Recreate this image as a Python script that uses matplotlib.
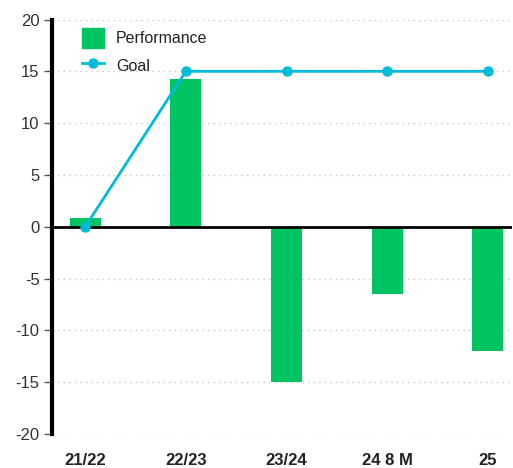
import numpy as np
import matplotlib.pyplot as plt
from matplotlib.patches import Patch
from matplotlib.lines import Line2D

plt.rcParams['font.family'] = ['Liberation Sans', 'DejaVu Sans']
plt.rcParams['axes.unicode_minus'] = False

categories = ['21/22', '22/23', '23/24', '24 8 M', '25']
performance = [0.8, 14.3, -15.0, -6.5, -12.0]
goal = [0, 15, 15, 15, 15]

green = '#00c462'
cyan = '#00bcd8'

fig = plt.figure(figsize=(5.13, 4.68), dpi=100)
ax = fig.add_axes([52/513, 1-434/468, 460/513, (434-19.5)/468])

x = np.arange(len(categories))
ax.bar(x, performance, width=0.31, color=green, zorder=2)
ax.plot(x, goal, color=cyan, lw=2, marker='o', ms=6.5, zorder=4)
ax.axhline(0, color='black', lw=2, zorder=3)

ax.set_ylim(-20, 20)
ax.set_xlim(-0.33, 4.24)
ax.set_yticks(np.arange(-20, 21, 5))
ax.set_xticks(x)
ax.set_xticklabels(categories, fontweight='bold', fontsize=12, color='#222222')
ax.tick_params(axis='x', length=0, pad=14)
ax.tick_params(axis='y', length=6, width=1, color='#555555', labelsize=12,
               labelcolor='#333333', pad=3)
ax.yaxis.grid(True, linestyle=(0, (1, 3)), color='#c8c8c8', lw=1, zorder=0)

for s in ['top', 'right', 'bottom']:
    ax.spines[s].set_visible(False)
ax.spines['left'].set_linewidth(3)
ax.spines['left'].set_color('black')

handles = [Patch(color=green, label='Performance'),
           Line2D([], [], color=cyan, lw=2, marker='o', ms=6.5, label='Goal')]
ax.legend(handles=handles, loc='upper left', bbox_to_anchor=(0.035, 1.015),
          frameon=False, fontsize=11.5, handlelength=1.35, handleheight=1.6,
          labelspacing=0.45, handletextpad=0.75, labelcolor='#222222')

fig.savefig('out.png', dpi=100)
